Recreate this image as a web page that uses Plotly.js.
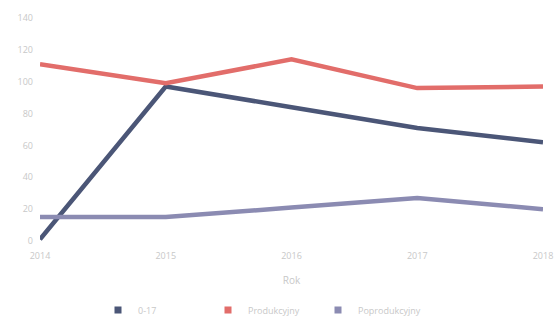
<!DOCTYPE html>
<html><head><meta charset="utf-8">
<script src="https://cdn.plot.ly/plotly-3.0.1.min.js"></script>
<style>body{margin:0;background:#fff}#c{width:558px;height:318px}</style>
</head><body><div id="c"></div>
<script>
const years = [2014, 2015, 2016, 2017, 2018];
const seriesNames = ["0-17", "Produkcyjny", "Poprodukcyjny"];
const v017 = [1, 97, 84, 71, 62];
const vProd = [111, 99, 114, 96, 97];
const vPoprod = [15, 15, 21, 27, 20];
const yTicks = [0, 20, 40, 60, 80, 100, 120, 140];
const colors = ["#4b5677", "#e26d6a", "#8b8bb2"];
const vals = [v017, vProd, vPoprod];
const traces = seriesNames.map((n, i) => ({
  x: years, y: vals[i], name: n, type: "scatter", mode: "lines", showlegend: false,
  line: {color: colors[i], width: 4.5}
}));
const legendTraces = seriesNames.map((n, i) => ({
  x: [null], y: [null], name: n, type: "scatter", mode: "markers",
  marker: {color: colors[i], symbol: "square", size: 7}
}));
Plotly.newPlot("c", traces.concat(legendTraces), {
  width: 558, height: 318,
  margin: {l: 40, r: 15, t: 18, b: 77},
  paper_bgcolor: "#fff", plot_bgcolor: "#fff",
  font: {family: "Open Sans, sans-serif", size: 9, color: "#c8c8c8"},
  xaxis: {tickvals: years, range: [2014, 2018], showgrid: false, zeroline: false, showline: false,
    ticklabelstandoff: 8,
    title: {text: "Rok", font: {size: 10, color: "#c8c8c8"}, standoff: 15}, ticklen: 0},
  yaxis: {tickvals: yTicks, range: [0, 140], showgrid: false, zeroline: false, showline: false, ticklen: 0,
    ticklabelstandoff: 6},
  showlegend: true,
  legend: {orientation: "h", xref: "container", x: 98 / 558, xanchor: "left", yref: "container", y: 8 / 318, yanchor: "middle",
    font: {size: 9, color: "#c8c8c8"}, entrywidth: 65, itemwidth: 30}
}, {displayModeBar: false});
</script></body></html>
